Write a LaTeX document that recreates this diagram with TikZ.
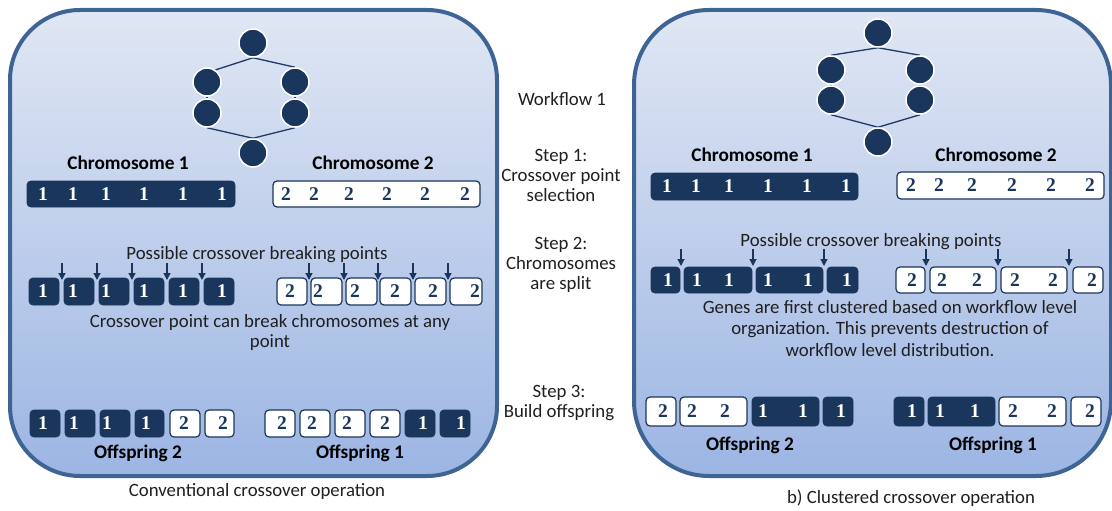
\documentclass[tikz,border=0pt]{standalone}
\usepackage{fontspec}
\setmainfont{Carlito}
\newfontfamily\genefont{Liberation Serif}
\usetikzlibrary{arrows.meta}

\definecolor{genedark}{HTML}{1B365D}
\definecolor{panelrim}{HTML}{3D6494}
\definecolor{paneltop}{HTML}{E0E7F4}
\definecolor{panelbot}{HTML}{9CB5E3}
\definecolor{edgeblue}{HTML}{1F3864}

\pgfdeclarelayer{panels}
\pgfdeclarelayer{links}
\pgfsetlayers{panels,links,main}

\tikzset{
  panel/.style={draw=panelrim, line width=4pt, top color=paneltop, bottom color=panelbot},
  task/.style={circle, fill=genedark, draw=white, line width=1.5pt, minimum size=28pt, inner sep=0pt},
  link/.style={draw=edgeblue, line width=1.3pt},
  darkgene/.style={rectangle, rounded corners=4pt, fill=genedark, draw=genedark, line width=0.8pt, inner sep=0pt},
  lightgene/.style={rectangle, rounded corners=4pt, fill=white, draw=genedark, line width=1.2pt, inner sep=0pt},
  num/.style={font=\genefont\bfseries\fontsize{19.5}{19.5}\selectfont, inner sep=0pt},
  one/.style={num, text=white},
  two/.style={num, text=genedark},
  label/.style={font=\fontsize{18.8}{20}\selectfont, align=center, inner sep=0pt, text=black!88},
  title/.style={font=\bfseries\fontsize{19.3}{20}\selectfont, inner sep=0pt, text=black},
  brk/.style={draw=genedark, line width=1.3pt, -{Triangle[length=7pt,width=7pt]}},
}

% gene box: name, style, left, right, top, bottom
\newcommand\gene[6]{\node[#2, minimum width={#4-#3}, minimum height={#6-#5}] (#1) at ({(#3+#4)/2},{(#5+#6)/2}) {};}
% gene values: name prefix, y, list of x/text/style
\newcommand\genevals[3]{\foreach \gx/\gt/\gs [count=\k] in {#3} {\node[\gs] (#1\k) at (\gx,#2) {\gt};}}
% breaking-point arrows: name prefix, top y, bottom y, list of x
\newcommand\breaks[4]{\foreach \bx [count=\k] in {#4} {
  \coordinate (#1s\k) at (\bx,#2); \coordinate (#1e\k) at (\bx,#3);
  \draw[brk] (#1s\k) -- (#1e\k);}}

\begin{document}
\begin{tikzpicture}[x=1pt,y=-1pt]
\useasboundingbox (0,0) rectangle (1112,511);

% panels
\begin{pgfonlayer}{panels}
  \path[panel, rounded corners=70pt] (10,10) rectangle (497,476);
  \path[panel, rounded corners=75pt] (634,10) rectangle (1111,476);
\end{pgfonlayer}

% ---------- conventional crossover ----------
\node[task] (lt) at (253,43) {};
\node[task] (llu) at (207,82) {};
\node[task] (lld) at (207,113) {};
\node[task] (lru) at (295,82) {};
\node[task] (lrd) at (295,113) {};
\node[task] (lb) at (253,153) {};
\begin{pgfonlayer}{links}
  \draw[link] (lt.south) -- (llu.55);
  \draw[link] (lt.south) -- (lru.north);
  \draw[link] (llu) -- (lld);
  \draw[link] (lru) -- (lrd);
  \draw[link] (lld.south) -- (lb.north);
  \draw[link] (lrd.south) -- (lb.north);
\end{pgfonlayer}

\node[title] (lch1) at (128,163) {Chromosome 1};
\node[title] (lch2) at (373,163) {Chromosome 2};
\gene{lbar1}{darkgene}{27}{235}{181}{207}
\genevals{lbo}{194}{43/1/one,73/1/one,106/1/one,144/1/one,183/1/one,222/1/one}
\gene{lbar2}{lightgene}{273}{480}{181}{207}
\genevals{lbt}{194}{286/2/two,314/2/two,349/2/two,387/2/two,425/2/two,465/2/two}

\node[label] (lposs) at (257,255) {Possible crossover breaking points};
\gene{ls1}{darkgene}{29}{59}{278}{305}
\gene{ls2}{darkgene}{64}{94}{278}{305}
\gene{ls3}{darkgene}{99}{129}{278}{305}
\gene{ls4}{darkgene}{134}{164}{278}{305}
\gene{ls5}{darkgene}{169}{199}{278}{305}
\gene{ls6}{darkgene}{204}{234}{278}{305}
\genevals{lso}{291.5}{43/1/one,73/1/one,106/1/one,144/1/one,183/1/one,222/1/one}
\breaks{lba}{263}{280}{62,97,132,167,202}
\gene{lt1}{lightgene}{277}{307}{278}{305}
\gene{lt2}{lightgene}{311}{342}{278}{305}
\gene{lt3}{lightgene}{346}{377}{278}{305}
\gene{lt4}{lightgene}{380}{411}{278}{305}
\gene{lt5}{lightgene}{415}{446}{278}{305}
\gene{lt6}{lightgene}{450}{482}{278}{305}
\genevals{lst}{291.5}{290/2/two,318/2/two,355/2/two,395/2/two,433/2/two,475/2/two}
\breaks{lbb}{263}{280}{309,344,378,413,448}
\node[label] (lnote) at (270,332) {Crossover point can break chromosomes at any\\point};

\gene{lo1}{darkgene}{30}{60}{410}{437}
\gene{lo2}{darkgene}{65}{95}{410}{437}
\gene{lo3}{darkgene}{100}{130}{410}{437}
\gene{lo4}{darkgene}{135}{164}{410}{437}
\gene{lo5}{lightgene}{170}{200}{410}{437}
\gene{lo6}{lightgene}{205}{234}{410}{437}
\genevals{lov}{423.5}{43/1/one,74/1/one,107/1/one,146/1/one,184/2/two,223/2/two}
\gene{lp1}{lightgene}{265}{295}{410}{437}
\gene{lp2}{lightgene}{300}{330}{410}{437}
\gene{lp3}{lightgene}{335}{365}{410}{437}
\gene{lp4}{lightgene}{370}{400}{410}{437}
\gene{lp5}{darkgene}{405}{435}{410}{437}
\gene{lp6}{darkgene}{440}{470}{410}{437}
\genevals{lpv}{423.5}{282/2/two,312/2/two,347/2/two,385/2/two,423/1/one,461/1/one}
\node[title] (loff2) at (138,453) {Offspring 2};
\node[title] (loff1) at (360,453) {Offspring 1};
\node[label] (lcap) at (257,491) {Conventional crossover operation};

% ---------- step labels ----------
\node[label] (wf) at (562,99) {Workflow 1};
\node[label] (st1) at (561,175) {Step 1:\\Crossover point\\selection};
\node[label] (st2) at (561,265) {Step 2:\\Chromosomes\\are split};
\node[label] (st3) at (559,403) {Step 3:\\Build offspring};

% ---------- clustered crossover ----------
\node[task] (rt) at (878,33) {};
\node[task] (rlu) at (831,70) {};
\node[task] (rld) at (831,100) {};
\node[task] (rru) at (920,70) {};
\node[task] (rrd) at (920,100) {};
\node[task] (rb) at (878,142) {};
\begin{pgfonlayer}{links}
  \draw[link] (rt.south) -- (rlu.north);
  \draw[link] (rt.south) -- (rru.north);
  \draw[link] (rlu) -- (rld);
  \draw[link] (rru) -- (rrd);
  \draw[link] (rld.south) -- (rb.north);
  \draw[link] (rrd.south) -- (rb.north);
\end{pgfonlayer}

\node[title] (rch1) at (752,155) {Chromosome 1};
\node[title] (rch2) at (996,155) {Chromosome 2};
\gene{rbar1}{darkgene}{651}{858}{173}{200}
\genevals{rbo}{186.5}{667/1/one,696/1/one,729/1/one,768/1/one,807/1/one,846/1/one}
\gene{rbar2}{lightgene}{897}{1104}{172}{199}
\genevals{rbt}{185.5}{911/2/two,939/2/two,972/2/two,1012/2/two,1051/2/two,1090/2/two}

\node[label] (rposs) at (871,242) {Possible crossover breaking points};
\gene{rs1}{darkgene}{651}{680}{267}{293}
\gene{rs2}{darkgene}{684}{752}{267}{293}
\gene{rs3}{darkgene}{756}{823}{267}{293}
\gene{rs4}{darkgene}{827}{858}{267}{293}
\genevals{rso}{280}{668/1/one,697/1/one,729/1/one,768/1/one,808/1/one,847/1/one}
\breaks{rba}{249}{266}{681,753,824}
\gene{rt1}{lightgene}{896}{925}{267}{293}
\gene{rt2}{lightgene}{930}{996}{267}{293}
\gene{rt3}{lightgene}{1001}{1067}{267}{293}
\gene{rt4}{lightgene}{1073}{1103}{267}{293}
\genevals{rst}{280}{912/2/two,942/2/two,977/2/two,1015/2/two,1053/2/two,1092/2/two}
\breaks{rbb}{249}{266}{926,998,1069}
\node[label, font=\fontsize{18.8}{21.5}\selectfont] (rnote) at (890,328.5)
  {Genes are first clustered based on workflow level\\organization. This prevents destruction of\\workflow level distribution.};

\gene{ro1}{lightgene}{646}{676}{397}{426}
\gene{ro2}{lightgene}{680}{747}{397}{426}
\gene{ro3}{darkgene}{752}{819}{397}{426}
\gene{ro4}{darkgene}{823}{853}{397}{426}
\genevals{rov}{411.5}{663/2/two,692/2/two,725/2/two,763/1/one,803/1/one,841/1/one}
\gene{rp1}{darkgene}{894}{924}{397}{426}
\gene{rp2}{darkgene}{928}{995}{397}{426}
\gene{rp3}{lightgene}{999}{1066}{397}{426}
\gene{rp4}{lightgene}{1071}{1101}{397}{426}
\genevals{rpv}{411.5}{912/1/one,940/1/one,975/1/one,1013/2/two,1052/2/two,1090/2/two}
\node[title] (roff2) at (750,445) {Offspring 2};
\node[title] (roff1) at (993,445) {Offspring 1};
\node[label] (rcap) at (911,498) {b) Clustered crossover operation};
\end{tikzpicture}
\end{document}
